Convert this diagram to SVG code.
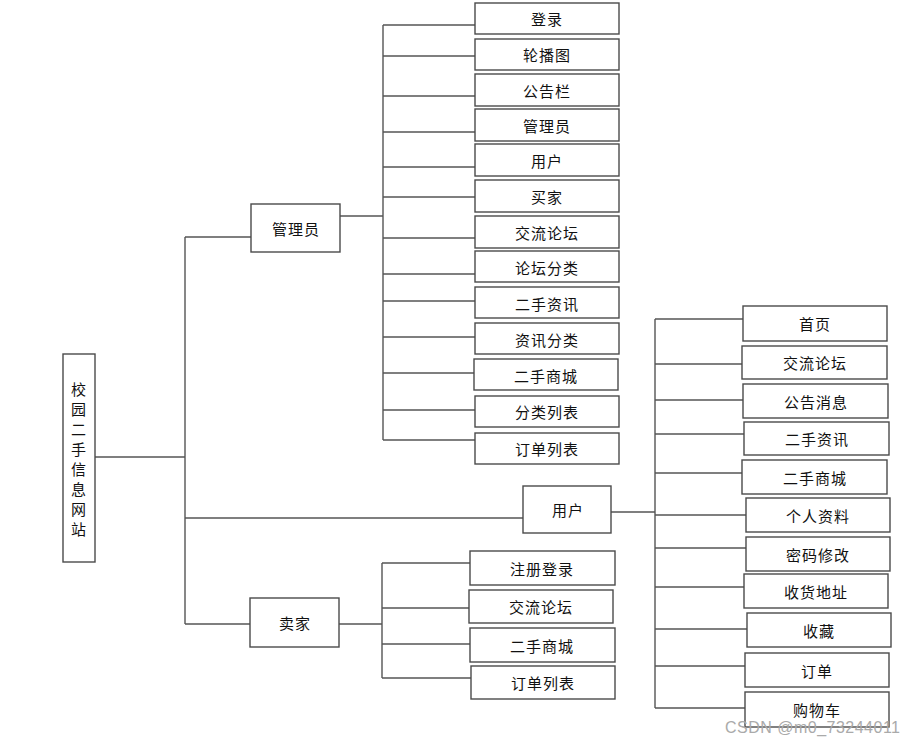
<svg xmlns="http://www.w3.org/2000/svg" width="916" height="745" viewBox="0 0 916 745">
<style>
rect.b{fill:#fff;stroke:#4a4a4a;stroke-width:1.4}
text{font-family:"Noto Sans CJK SC","Microsoft YaHei",sans-serif;font-size:15px;fill:#111;text-anchor:middle;dominant-baseline:central;letter-spacing:1px}
.c path{fill:none;stroke:#555;stroke-width:1.4}
.wm{font-family:"Liberation Sans",Arial,sans-serif;font-size:16px;fill:#aaa;text-anchor:start;letter-spacing:0}
</style>
<rect width="916" height="745" fill="#fff"/>
<g class="c" id="connectors">
<path d="M95 457H185M185 237V624M185 237H251M185 518H523M185 624H250"/>
<path d="M340 216H383M383 25V440M383 25H475M383 56H475M383 96H475M383 132H475M383 167H475M383 197H475M383 238H475M383 274H475M383 301H475M383 337H475M383 373H474M383 410H475M383 440H475"/>
<path d="M611 512H655M655 319V708M655 319H743M655 364H742M655 400H743M655 434H744M655 473H742M655 515H746M655 548H746M655 587H744M655 629H747M655 666H745M655 708H745"/>
<path d="M339 624H382M382 563V678M382 563H470M382 608H469M382 644H470M382 678H471"/>
</g>
<g id="root"><rect class="b" x="63" y="354" width="32" height="208"/>
<text x="79" y="388">校</text><text x="79" y="408">园</text><text x="79" y="428">二</text><text x="79" y="448">手</text><text x="79" y="468">信</text><text x="79" y="488">息</text><text x="79" y="508">网</text><text x="79" y="528">站</text></g>
<g id="admin"><rect class="b" x="251" y="204" width="89" height="48"/><text x="296" y="228">管理员</text></g>
<g id="user"><rect class="b" x="523" y="486" width="88" height="47"/><text x="568" y="509">用户</text></g>
<g id="seller"><rect class="b" x="250" y="598" width="89" height="49"/><text x="295" y="622">卖家</text></g>
<g id="a1"><rect class="b" x="475" y="3" width="144" height="31"/><text x="547" y="18">登录</text></g>
<g id="a2"><rect class="b" x="475" y="39" width="144" height="31"/><text x="547" y="54">轮播图</text></g>
<g id="a3"><rect class="b" x="475" y="74" width="144" height="32"/><text x="547" y="90">公告栏</text></g>
<g id="a4"><rect class="b" x="475" y="109" width="144" height="32"/><text x="547" y="125">管理员</text></g>
<g id="a5"><rect class="b" x="475" y="144" width="144" height="32"/><text x="547" y="160">用户</text></g>
<g id="a6"><rect class="b" x="475" y="180" width="144" height="32"/><text x="547" y="196">买家</text></g>
<g id="a7"><rect class="b" x="475" y="216" width="144" height="32"/><text x="547" y="232">交流论坛</text></g>
<g id="a8"><rect class="b" x="475" y="251" width="144" height="31"/><text x="547" y="267">论坛分类</text></g>
<g id="a9"><rect class="b" x="475" y="287" width="144" height="31"/><text x="547" y="303">二手资讯</text></g>
<g id="a10"><rect class="b" x="475" y="323" width="144" height="31"/><text x="547" y="339">资讯分类</text></g>
<g id="a11"><rect class="b" x="474" y="359" width="144" height="31"/><text x="546" y="375">二手商城</text></g>
<g id="a12"><rect class="b" x="475" y="396" width="144" height="31"/><text x="547" y="411">分类列表</text></g>
<g id="a13"><rect class="b" x="475" y="433" width="144" height="31"/><text x="547" y="448">订单列表</text></g>
<g id="u1"><rect class="b" x="743" y="306" width="144" height="35"/><text x="815" y="323">首页</text></g>
<g id="u2"><rect class="b" x="742" y="346" width="145" height="33"/><text x="815" y="362">交流论坛</text></g>
<g id="u3"><rect class="b" x="743" y="384" width="145" height="34"/><text x="816" y="401">公告消息</text></g>
<g id="u4"><rect class="b" x="744" y="422" width="145" height="33"/><text x="817" y="438">二手资讯</text></g>
<g id="u5"><rect class="b" x="742" y="460" width="145" height="34"/><text x="815" y="477">二手商城</text></g>
<g id="u6"><rect class="b" x="746" y="498" width="144" height="34"/><text x="818" y="515">个人资料</text></g>
<g id="u7"><rect class="b" x="746" y="537" width="144" height="34"/><text x="818" y="554">密码修改</text></g>
<g id="u8"><rect class="b" x="744" y="574" width="144" height="34"/><text x="816" y="591">收货地址</text></g>
<g id="u9"><rect class="b" x="747" y="613" width="144" height="34"/><text x="819" y="630">收藏</text></g>
<g id="u10"><rect class="b" x="745" y="653" width="144" height="34"/><text x="817" y="670">订单</text></g>
<g id="u11"><rect class="b" x="745" y="692" width="144" height="35"/><text x="817" y="709">购物车</text></g>
<g id="s1"><rect class="b" x="470" y="551" width="145" height="34"/><text x="542" y="568">注册登录</text></g>
<g id="s2"><rect class="b" x="469" y="590" width="144" height="33"/><text x="541" y="606">交流论坛</text></g>
<g id="s3"><rect class="b" x="470" y="628" width="145" height="34"/><text x="542" y="645">二手商城</text></g>
<g id="s4"><rect class="b" x="471" y="666" width="144" height="33"/><text x="543" y="682">订单列表</text></g>
<text class="wm" x="725" y="727" textLength="175">CSDN @m0_73244011</text>
</svg>
